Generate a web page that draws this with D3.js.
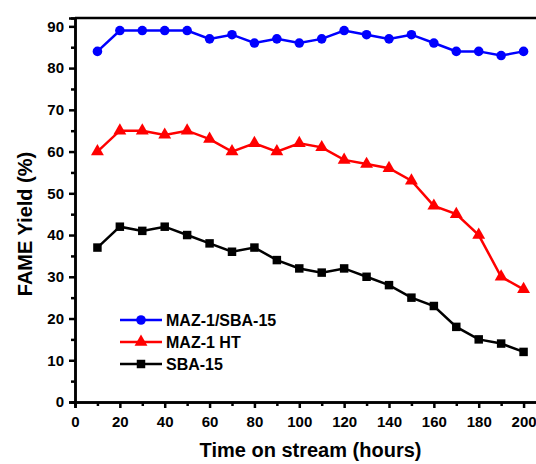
<!DOCTYPE html>
<html>
<head>
<meta charset="utf-8">
<script src="https://cdn.jsdelivr.net/npm/d3@7"></script>
<style>
  body { margin: 0; background: #fff; }
  svg { display: block; font-family: "Liberation Sans", Arial, sans-serif; font-weight: bold; }
</style>
</head>
<body>
<div id="chart"></div>
<script>
'use strict';

var hours = [10, 20, 30, 40, 50, 60, 70, 80, 90, 100, 110, 120, 130, 140, 150, 160, 170, 180, 190, 200];
var mazSba = [84, 89, 89, 89, 89, 87, 88, 86, 87, 86, 87, 89, 88, 87, 88, 86, 84, 84, 83, 84];
var mazHt = [60, 65, 65, 64, 65, 63, 60, 62, 60, 62, 61, 58, 57, 56, 53, 47, 45, 40, 30, 27];
var sba = [37, 42, 41, 42, 40, 38, 36, 37, 34, 32, 31, 32, 30, 28, 25, 23, 18, 15, 14, 12];
var xTicks = [0, 20, 40, 60, 80, 100, 120, 140, 160, 180, 200];
var yTicks = [0, 10, 20, 30, 40, 50, 60, 70, 80, 90];

var series = [
  { name: 'MAZ-1/SBA-15', values: mazSba, color: '#0000ff', symbol: d3.symbolCircle, size: 72 },
  { name: 'MAZ-1 HT', values: mazHt, color: '#ff0000', symbol: d3.symbolTriangle, size: 72 },
  { name: 'SBA-15', values: sba, color: '#000000', symbol: d3.symbolSquare, size: 72 }
];

var width = 536, height = 464;
var margin = { left: 75, top: 18, right: -10, bottom: 62 };

var svg = d3.select('#chart').append('svg')
  .attr('width', width)
  .attr('height', height);

var x = d3.scaleLinear().domain([0, 210]).range([margin.left, width - margin.right]);
var y = d3.scaleLinear().domain([0, 92]).range([height - margin.bottom, margin.top]);

// frame (top + right, right side falls off the picture)
svg.append('path')
  .attr('d', 'M' + x(0) + ',' + y(92) + 'H' + x(210) + 'V' + y(0))
  .attr('fill', 'none')
  .attr('stroke', '#000')
  .attr('stroke-width', 2.5);

// minor ticks
var xAxisMinor = d3.axisBottom(x).tickValues(d3.range(10, 210, 20)).tickSize(4).tickFormat('');
var yAxisMinor = d3.axisLeft(y).tickValues(d3.range(5, 92, 10)).tickSize(4).tickFormat('');

var xAxis = d3.axisBottom(x).tickValues(xTicks).tickSize(6).tickPadding(8).tickFormat(d3.format('d'));
var yAxis = d3.axisLeft(y).tickValues(yTicks).tickSize(6).tickPadding(5).tickFormat(d3.format('d'));

function styleAxis (g) {
  g.select('.domain').attr('stroke-width', 2.5);
  g.selectAll('.tick line').attr('stroke-width', 2.5);
  g.selectAll('.tick text')
    .attr('fill', '#000')
    .style('font-size', '15px')
    .style('font-weight', 'bold');
}

svg.append('g').attr('transform', 'translate(0,' + y(0) + ')').call(xAxisMinor).call(styleAxis);
svg.append('g').attr('transform', 'translate(' + x(0) + ',0)').call(yAxisMinor).call(styleAxis);
svg.append('g').attr('transform', 'translate(0,' + y(0) + ')').call(xAxis).call(styleAxis);
svg.append('g').attr('transform', 'translate(' + x(0) + ',0)').call(yAxis).call(styleAxis);

// series
var line = d3.line()
  .x(function (d) { return x(d[0]); })
  .y(function (d) { return y(d[1]); });

series.forEach(function (s) {
  var pts = hours.map(function (h, i) { return [h, s.values[i]]; });
  svg.append('path')
    .datum(pts)
    .attr('d', line)
    .attr('fill', 'none')
    .attr('stroke', s.color)
    .attr('stroke-width', 2.5);

  svg.selectAll(null)
    .data(pts)
    .enter().append('path')
    .attr('d', d3.symbol().type(s.symbol).size(s.size))
    .attr('transform', function (d) { return 'translate(' + x(d[0]) + ',' + y(d[1]) + ')'; })
    .attr('fill', s.color);
});

// legend
var legend = svg.append('g').attr('transform', 'translate(120,320)');
series.forEach(function (s, i) {
  var row = legend.append('g').attr('transform', 'translate(0,' + (i * 22) + ')');
  row.append('line')
    .attr('x1', 0).attr('x2', 42)
    .attr('stroke', s.color)
    .attr('stroke-width', 2.5);
  row.append('path')
    .attr('d', d3.symbol().type(s.symbol).size(s.size))
    .attr('transform', 'translate(21,0)')
    .attr('fill', s.color);
  row.append('text')
    .attr('x', 46)
    .attr('dy', '0.35em')
    .style('font-size', '16px')
    .text(s.name);
});

// axis titles
svg.append('text')
  .attr('x', (x(0) + x(210)) / 2)
  .attr('y', 457)
  .attr('text-anchor', 'middle')
  .style('font-size', '20px')
  .text('Time on stream (hours)');

svg.append('text')
  .attr('transform', 'translate(32,224) rotate(-90)')
  .attr('text-anchor', 'middle')
  .style('font-size', '20px')
  .text('FAME Yield (%)');
</script>
</body>
</html>
